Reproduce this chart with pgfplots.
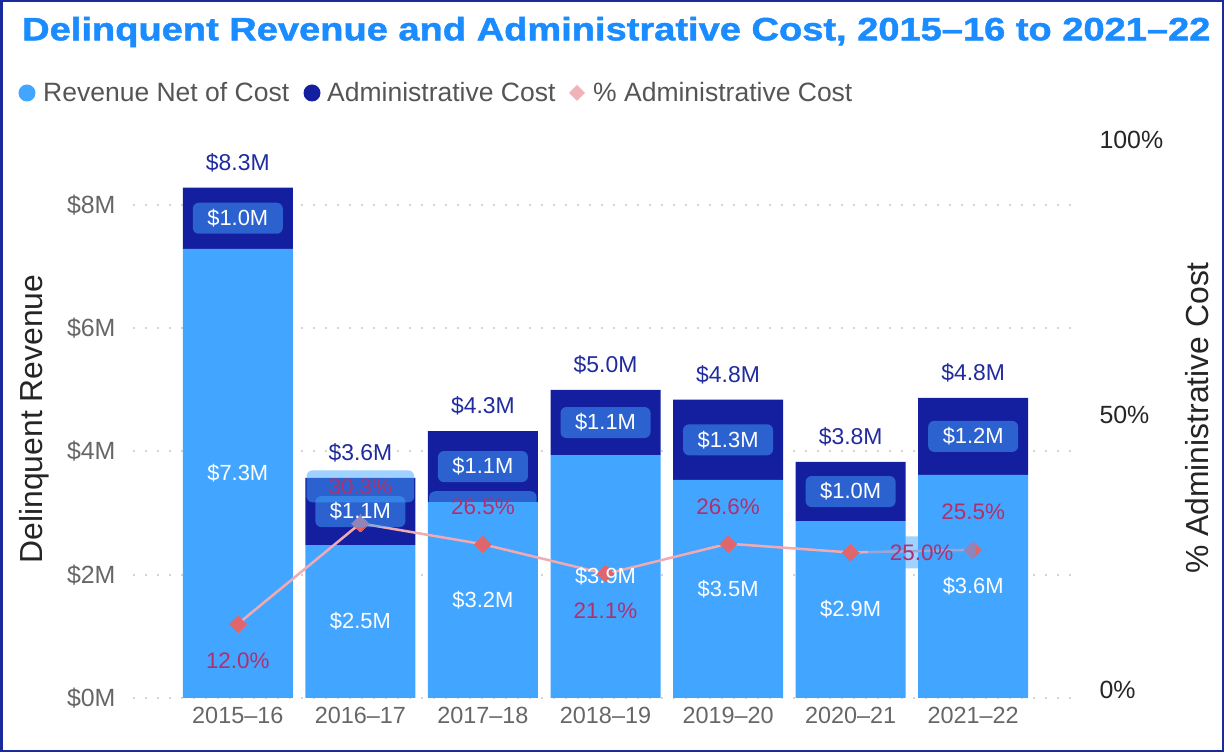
\documentclass[border=0pt]{standalone}
\usepackage{pgfplots}
\pgfplotsset{compat=1.18}
\usepackage{fontspec}
\setmainfont{Liberation Sans}
\newfontface\titlefont[FakeBold=1.3]{Liberation Sans Bold}
\definecolor{lb}{HTML}{42A5FF}
\definecolor{db}{HTML}{141F9F}
\definecolor{titleblue}{HTML}{1A8CFF}
\definecolor{topblue}{HTML}{1F2B9E}
\definecolor{pctcol}{HTML}{B0306E}
\definecolor{pinkline}{HTML}{F2AAB2}
\definecolor{pinkmark}{HTML}{E0666E}
\definecolor{legpink}{HTML}{F0B4B8}
\definecolor{tickgray}{HTML}{666666}
\definecolor{leggray}{HTML}{555555}
\definecolor{titlegray}{HTML}{252525}
\definecolor{framecol}{HTML}{1A2A9A}
\definecolor{gridcol}{HTML}{D4D4D4}
\tikzset{
  netlab/.style={font=\fontsize{22}{26}\selectfont, text=white},
  admlab/.style={font=\fontsize{22}{26}\selectfont, text=white, fill=lb, fill opacity=0.5, text opacity=1, rounded corners=6bp, minimum width=90bp, minimum height=31bp, inner sep=0pt},
  totlab/.style={font=\fontsize{23}{28}\selectfont, text=topblue, yshift=25bp},
  pctlab/.style={font=\fontsize{22.5}{26}\selectfont, text=pctcol, fill=lb, fill opacity=0.5, text opacity=1, rounded corners=6bp, inner xsep=22bp, minimum height=32bp},
}
\begin{document}
\begin{tikzpicture}[x=1bp,y=1bp]
\path[use as bounding box] (0,0) rectangle (1224,753);
\draw[framecol, line width=2bp] (1.5,1.5) rectangle (1222.5,751.5);
% title
\node[anchor=west, inner sep=0, font=\fontsize{32.5}{38}\titlefont, text=titleblue] at (22,721) {\scalebox{1.175}[1.0]{Delinquent Revenue and Administrative Cost, 2015–16 to 2021–22}};
% legend
\fill[lb] (27,660) circle (8.5);
\node[anchor=base west, inner sep=0, font=\fontsize{26.6}{30}\selectfont, text=leggray] at (43,651) {Revenue Net of Cost};
\fill[db] (312,660) circle (8.5);
\node[anchor=base west, inner sep=0, font=\fontsize{26.6}{30}\selectfont, text=leggray] at (327,651) {Administrative Cost};
\fill[legpink] (577,668) -- (585,660) -- (577,652) -- (569,660) -- cycle;
\node[anchor=base west, inner sep=0, font=\fontsize{26.6}{30}\selectfont, text=leggray] at (593,651) {\% Administrative Cost};
% axis titles
\node[rotate=90, inner sep=0, font=\fontsize{32}{36}\selectfont, text=titlegray] at (34,334) {Delinquent Revenue};
\node[rotate=90, inner sep=0, font=\fontsize{32}{36}\selectfont, text=titlegray] at (1197,335) {\% Administrative Cost};

\begin{axis}[
  at={(133bp,55bp)}, anchor=south west, scale only axis,
  width=945bp, height=558bp,
  xmin=-0.855, xmax=6.855, ymin=0, ymax=9.055,
  ybar stacked, bar width=110bp,
  axis line style={draw=none}, major tick style={draw=none},
  ytick={0,2,4,6,8},
  yticklabels={\$0M,\$2M,\$4M,\$6M,\$8M},
  xtick={0,1,2,3,4,5,6},
  xticklabels={2015–16,2016–17,2017–18,2018–19,2019–20,2020–21,2021–22},
  yticklabel style={font=\fontsize{25}{30}\selectfont, text=tickgray, anchor=east, xshift=-14bp},
  xticklabel style={font=\fontsize{23.5}{28}\selectfont, text=tickgray, yshift=-6bp},
  ymajorgrids, grid style={gridcol, line width=2bp, dash pattern=on 2bp off 10bp},
  clip=false,
]
\addplot[fill=lb, draw=none] coordinates {(0,7.29) (1,2.48) (2,3.18) (3,3.94) (4,3.54) (5,2.87) (6,3.62)};
\addplot[fill=db, draw=none] coordinates {(0,0.99) (1,1.09) (2,1.15) (3,1.06) (4,1.30) (5,0.96) (6,1.25)};
% label anchors
\coordinate (n0) at (axis cs:0,3.645);
\coordinate (n1) at (axis cs:1,1.24);
\coordinate (n2) at (axis cs:2,1.59);
\coordinate (n3) at (axis cs:3,1.97);
\coordinate (n4) at (axis cs:4,1.77);
\coordinate (n5) at (axis cs:5,1.435);
\coordinate (n6) at (axis cs:6,1.81);
\coordinate (a0) at (axis cs:0,7.785);
\coordinate (a1) at (axis cs:1,3.025);
\coordinate (a2) at (axis cs:2,3.755);
\coordinate (a3) at (axis cs:3,4.47);
\coordinate (a4) at (axis cs:4,4.19);
\coordinate (a5) at (axis cs:5,3.35);
\coordinate (a6) at (axis cs:6,4.245);
\coordinate (t0) at (axis cs:0,8.28);
\coordinate (t1) at (axis cs:1,3.57);
\coordinate (t2) at (axis cs:2,4.33);
\coordinate (t3) at (axis cs:3,5.00);
\coordinate (t4) at (axis cs:4,4.84);
\coordinate (t5) at (axis cs:5,3.83);
\coordinate (t6) at (axis cs:6,4.87);
\end{axis}

\begin{axis}[
  at={(133bp,55bp)}, anchor=south west, scale only axis,
  width=945bp, height=558bp,
  xmin=-0.855, xmax=6.855, ymin=-1.4545, ymax=100,
  axis x line=none, axis y line*=right,
  axis line style={draw=none}, major tick style={draw=none},
  ytick={0,50,100}, yticklabels={0\%,50\%,100\%},
  yticklabel style={font=\fontsize{25}{30}\selectfont, text=titlegray, anchor=west, xshift=18bp},
  clip=false,
]
\addplot[pinkline, line width=2.5bp, mark=square*, mark size=6bp, mark options={rotate=45, fill=pinkmark, draw=pinkmark, line width=0pt}] coordinates {(0,12.0) (1,30.3) (2,26.5) (3,21.1) (4,26.6) (5,25.0) (6,25.5)};
\coordinate (p0) at (axis cs:0,12.0);
\coordinate (p1) at (axis cs:1,30.3);
\coordinate (p2) at (axis cs:2,26.5);
\coordinate (p3) at (axis cs:3,21.1);
\coordinate (p4) at (axis cs:4,26.6);
\coordinate (p5) at (axis cs:5,25.0);
\coordinate (p6) at (axis cs:6,25.5);
\end{axis}

% percentage labels
\node[pctlab, yshift=-37bp] at (p0) {12.0\%};
\node[pctlab, yshift=37bp] at (p1) {30.3\%};
\node[pctlab, yshift=37bp] at (p2) {26.5\%};
\node[pctlab, yshift=-37bp] at (p3) {21.1\%};
\node[pctlab, yshift=37bp] at (p4) {26.6\%};
\node[pctlab, xshift=71bp] at (p5) {25.0\%};
\node[pctlab, yshift=38bp] at (p6) {25.5\%};
% bar labels
\node[netlab] at (n0) {\$7.3M};
\node[netlab] at (n1) {\$2.5M};
\node[netlab] at (n2) {\$3.2M};
\node[netlab] at (n3) {\$3.9M};
\node[netlab] at (n4) {\$3.5M};
\node[netlab] at (n5) {\$2.9M};
\node[netlab] at (n6) {\$3.6M};
\node[admlab] at (a0) {\$1.0M};
\node[admlab] at (a1) {\$1.1M};
\node[admlab] at (a2) {\$1.1M};
\node[admlab] at (a3) {\$1.1M};
\node[admlab] at (a4) {\$1.3M};
\node[admlab] at (a5) {\$1.0M};
\node[admlab] at (a6) {\$1.2M};
\node[totlab] at (t0) {\$8.3M};
\node[totlab] at (t1) {\$3.6M};
\node[totlab] at (t2) {\$4.3M};
\node[totlab] at (t3) {\$5.0M};
\node[totlab] at (t4) {\$4.8M};
\node[totlab] at (t5) {\$3.8M};
\node[totlab] at (t6) {\$4.8M};
\end{tikzpicture}
\end{document}
